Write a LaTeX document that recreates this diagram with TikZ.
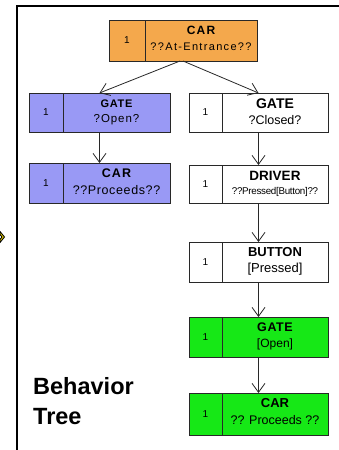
\documentclass[tikz,border=0pt]{standalone}
\usepackage{fontspec}
\setmainfont{Liberation Sans}
\usetikzlibrary{arrows.meta}

\definecolor{carorange}{RGB}{244,168,76}
\definecolor{gateblue}{RGB}{153,153,245}
\definecolor{okgreen}{RGB}{22,232,22}
\definecolor{edge}{RGB}{40,40,40}

% font size helper and letter spacing helper
\newcommand\fs[1]{\fontsize{#1}{#1}\selectfont}
\newcommand\ls[1]{\addfontfeature{LetterSpace=#1}}

\tikzset{
  bt/.style={draw=edge, line width=0.8pt, inner sep=0pt, outer sep=0pt},
  arr/.style={draw=edge, line width=0.8pt,
    -{Straight Barb[length=9pt,width=13pt,line width=0.8pt]}},
  num/.style={font=\fs{10}, inner sep=0pt},
  ttl/.style={font=\bfseries, inner sep=0pt},
  sub/.style={inner sep=0pt},
  caption/.style={font=\fs{23.5}\bfseries, anchor=base west, inner sep=0pt},
}

% #1 name, #2 left, #3 top, #4 right, #5 bottom, #6 divider x, #7 fill, #8 title, #9 subtitle
\newcommand\btbox[9]{%
  \node[bt, fill=#7, minimum width={#4-#2}, minimum height={#5-#3},
        anchor=north west] (#1) at (#2,#3) {};
  \draw[edge, line width=0.8pt] (#6,#3) -- (#6,#5);
  \node[num] (#1-n) at ({(#2+#6)/2},{(#3+#5)/2}) {1};
  \node[ttl] (#1-t) at ({(#6+#4)/2},{#3+10.5}) {#8};
  \node[sub] (#1-s) at ({(#6+#4)/2},{#3+27}) {#9};
}

\begin{document}
\begin{tikzpicture}[x=1pt, y=-1pt]
  \useasboundingbox[fill=white] (0,0) rectangle (339,450);

  % frame
  \draw[line width=2pt] (16.5,450) -- (16.5,5.5) -- (339,5.5);
  % small pointer on the left edge
  \draw[fill=yellow!85!orange, line width=0.9pt, line join=miter]
    (0,231.5) -- (4.5,237) -- (0,242.5) -- (0,239.5) -- (2,237) -- (0,234.5) -- cycle;

  % boxes
  \btbox{car0}{109}{20}{257}{61}{145}{carorange}
    {\fs{12}\ls{10}CAR}{\fs{11}\ls{12}??At-Entrance??}
  \btbox{gateL}{29}{93}{170}{132}{63}{gateblue}
    {\fs{11}\ls{6}GATE}{\fs{11.5}\ls{8}?Open?}
  \btbox{carL}{29}{163}{170}{203}{63}{gateblue}
    {\fs{12.5}\ls{8}CAR}{\fs{12.5}\ls{5}??Proceeds??}
  \btbox{gateR}{189}{93}{328}{132}{222}{white}
    {\fs{14}GATE}{\fs{12.5}?Closed?}
  \btbox{driver}{189}{165}{328}{203}{222}{white}
    {\fs{13.5}DRIVER}{\fs{9.8}\ls{-3}??Pressed[Button]??}
  \btbox{button}{189}{242}{328}{282}{222}{white}
    {\fs{13}BUTTON}{\fs{13}[Pressed]}
  \btbox{gateG}{189}{317}{328}{357}{222}{okgreen}
    {\fs{12.5}\ls{5}GATE}{\fs{12}[Open]}
  \btbox{carG}{189}{393}{328}{435}{222}{okgreen}
    {\fs{13}CAR}{\fs{12.5}?? Proceeds ??}

  % connectors
  \draw[arr] ([xshift=-3pt]car0.south) -- (gateL.north);
  \draw[arr] (car0.south) -- (gateR.north);
  \draw[arr] (gateL) -- (carL);
  \draw[arr] (gateR) -- (driver);
  \draw[arr] (driver) -- (button);
  \draw[arr] (button) -- (gateG);
  \draw[arr] (gateG) -- (carG);

  % caption
  \node[caption] (cap1) at (33,394) {Behavior};
  \node[caption] (cap2) at (33,424) {Tree};
\end{tikzpicture}
\end{document}
